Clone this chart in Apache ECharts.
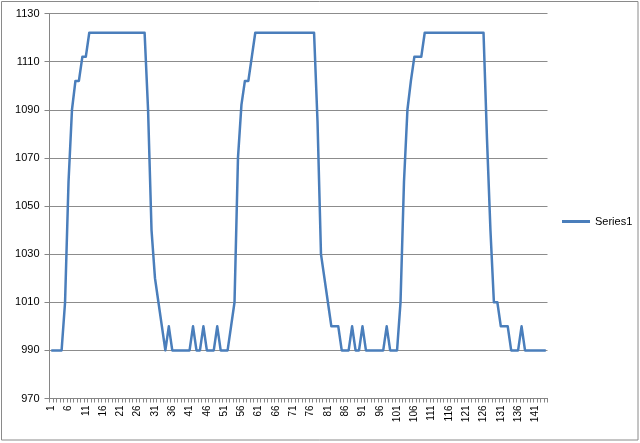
<!DOCTYPE html>
<html>
<head>
<meta charset="utf-8">
<script src="https://cdn.jsdelivr.net/npm/echarts@6/dist/echarts.min.js"></script>
<style>
html,body{margin:0;padding:0;background:#fff;}
#chart{width:640px;height:443px;}
</style>
</head>
<body>
<div id="chart"></div>
<script>
const categories = [
  "1","2","3","4","5","6","7","8","9","10","11","12","13","14","15","16","17","18","19","20",
  "21","22","23","24","25","26","27","28","29","30","31","32","33","34","35","36","37","38","39","40",
  "41","42","43","44","45","46","47","48","49","50","51","52","53","54","55","56","57","58","59","60",
  "61","62","63","64","65","66","67","68","69","70","71","72","73","74","75","76","77","78","79","80",
  "81","82","83","84","85","86","87","88","89","90","91","92","93","94","95","96","97","98","99","100",
  "101","102","103","104","105","106","107","108","109","110","111","112","113","114","115","116","117","118","119","120",
  "121","122","123","124","125","126","127","128","129","130","131","132","133","134","135","136","137","138","139","140",
  "141","142","143","144"
];
const series1 = [
  990,990,990,990,1010,1060,1090,1102,1102,1112,
  1112,1122,1122,1122,1122,1122,1122,1122,1122,1122,
  1122,1122,1122,1122,1122,1122,1122,1122,1090,1040,
  1020,1010,1000,990,1000,990,990,990,990,990,
  990,1000,990,990,1000,990,990,990,1000,990,
  990,990,1000,1010,1070,1092,1102,1102,1112,1122,
  1122,1122,1122,1122,1122,1122,1122,1122,1122,1122,
  1122,1122,1122,1122,1122,1122,1122,1085,1030,1020,
  1010,1000,1000,1000,990,990,990,1000,990,990,
  1000,990,990,990,990,990,990,1000,990,990,
  990,1010,1060,1090,1102,1112,1112,1112,1122,1122,
  1122,1122,1122,1122,1122,1122,1122,1122,1122,1122,
  1122,1122,1122,1122,1122,1122,1078,1040,1010,1010,
  1000,1000,1000,990,990,990,1000,990,990,990,
  990,990,990,990
];
const seriesName = "Series1";
const yMin = 970, yMax = 1130, yStep = 20;

const chart = echarts.init(document.getElementById('chart'), null, {renderer: 'canvas'});
chart.setOption({
  animation: false,
  backgroundColor: '#ffffff',
  textStyle: {fontFamily: 'Liberation Sans, Arial, sans-serif'},
  graphic: [{
    type: 'rect',
    shape: {x: 1.5, y: 1.5, width: 636.5, height: 438.5},
    style: {fill: 'none', stroke: '#8a8a8a', lineWidth: 1},
    silent: true
  }],
  grid: {left: 49.5, right: 92.5, top: 13.5, bottom: 44.5, containLabel: false},
  legend: {
    data: [seriesName],
    orient: 'vertical',
    left: 557,
    top: 211,
    icon: 'rect',
    itemWidth: 28,
    itemHeight: 3,
    itemGap: 6,
    textStyle: {fontSize: 11, color: '#000', fontFamily: 'Liberation Sans, Arial, sans-serif'}
  },
  xAxis: {
    type: 'category',
    data: categories,
    boundaryGap: true,
    axisLine: {show: true, lineStyle: {color: '#868686', width: 1}},
    axisTick: {show: true, interval: 0, length: 4, lineStyle: {color: '#868686'}},
    axisLabel: {
      interval: 4,
      rotate: 90,
      fontSize: 10,
      color: '#000',
      margin: 7,
      fontFamily: 'Liberation Sans, Arial, sans-serif'
    },
    splitLine: {show: false}
  },
  yAxis: {
    type: 'value',
    min: yMin,
    max: yMax,
    interval: yStep,
    axisLine: {show: true, lineStyle: {color: '#868686', width: 1}},
    axisTick: {show: true, length: 5, lineStyle: {color: '#868686'}},
    axisLabel: {
      fontSize: 11, color: '#000', margin: 10,
      fontFamily: 'Liberation Sans, Arial, sans-serif',
      formatter: function (v) { return String(v); }
    },
    splitLine: {show: true, lineStyle: {color: '#8c8c8c', width: 1}}
  },
  series: [{
    name: seriesName,
    type: 'line',
    data: series1,
    symbol: 'none',
    showSymbol: false,
    lineStyle: {color: '#4a7ebb', width: 2.5, join: 'round'},
    itemStyle: {color: '#4a7ebb'}
  }]
});
</script>
</body>
</html>
